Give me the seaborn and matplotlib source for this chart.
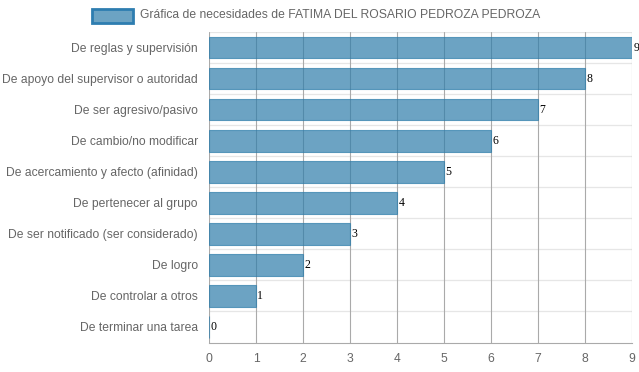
import matplotlib
matplotlib.use("Agg")
import matplotlib.pyplot as plt
import seaborn as sns
import pandas as pd
from matplotlib.patches import Rectangle

categories = ["De reglas y supervisión", "De apoyo del supervisor o autoridad",
              "De ser agresivo/pasivo", "De cambio/no modificar",
              "De acercamiento y afecto (afinidad)", "De pertenecer al grupo",
              "De ser notificado (ser considerado)", "De logro",
              "De controlar a otros", "De terminar una tarea"]
values = [9, 8, 7, 6, 5, 4, 3, 2, 1, 0]
legend_label = "Gráfica de necesidades de FATIMA DEL ROSARIO PEDROZA PEDROZA"

sns.set_style("white")
plt.rcParams['font.family'] = ['Liberation Sans', 'DejaVu Sans']

df = pd.DataFrame({"cat": categories, "val": values})

fig = plt.figure(figsize=(6.39, 3.72), dpi=100)
ax = fig.add_axes([209/639, 1 - 342.5/372, (632-209)/639, (342.5-32)/372])

sns.barplot(data=df, x="val", y="cat", orient="h", ax=ax,
            color=(46/255, 125/255, 170/255), alpha=0.7, width=0.7,
            edgecolor=(46/255, 125/255, 170/255), linewidth=0.8, saturation=1)

ax.set_xlim(0, 9)
ax.set_ylim(len(categories) - 0.5, -0.5)
ax.set_xticks(range(0, 10))
ax.set_xlabel("")
ax.set_ylabel("")
ax.set_axisbelow(True)
for y in [i + 0.5 for i in range(-1, len(categories) - 1)]:
    ax.axhline(y, color="#e6e6e6", lw=0.9, zorder=0)
for x in range(0, 10):
    ax.axvline(x, color="#aaaaaa", lw=0.8, zorder=0.5)
for s in ax.spines.values():
    s.set_visible(False)
ax.spines["bottom"].set_visible(True)
ax.spines["bottom"].set_color("#aaaaaa")
ax.spines["bottom"].set_linewidth(0.8)

ax.tick_params(axis="y", colors="#666666", labelsize=8.7, length=0, pad=8)
ax.tick_params(axis="x", colors="#666666", labelsize=8.7, length=6,
               width=0.8, pad=1.5)
ax.tick_params(axis="x", color="#aaaaaa")
for lab in ax.get_yticklabels() + ax.get_xticklabels():
    lab.set_color("#666666")

for i, v in enumerate(values):
    ax.text(v + 0.03, i, str(v), fontsize=8.5, family="Liberation Serif",
            va="center", ha="left", color="black")

# legend
fig.patches.append(Rectangle((92/639, 1 - 23/372), 41/639, 14/372,
                             transform=fig.transFigure,
                             facecolor=(46/255, 125/255, 170/255, 0.7),
                             edgecolor="#2e7db0", linewidth=2))
fig.text(140/639, 1 - 15/372, legend_label, fontsize=8.7, color="#666666",
         va="center", ha="left")

fig.savefig("out.png", dpi=100)
